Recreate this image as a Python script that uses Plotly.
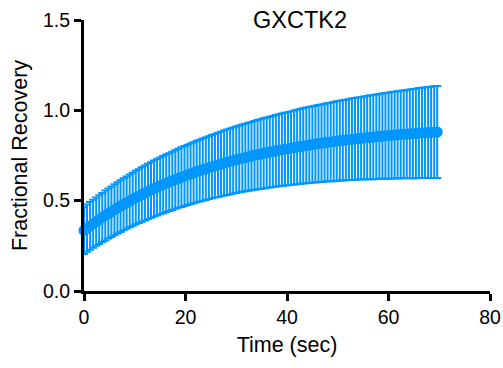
import plotly.graph_objects as go

time_sec = [0.0, 0.6, 1.2, 1.8, 2.4, 3.0, 3.6, 4.2, 4.8, 5.4, 6.0, 6.6, 7.2, 7.8, 8.4, 9.0, 9.6,
            10.2, 10.8, 11.4, 12.0, 12.6, 13.2, 13.8, 14.4, 15.0, 15.6, 16.2, 16.8, 17.4, 18.0,
            18.6, 19.2, 19.8, 20.4, 21.0, 21.6, 22.2, 22.8, 23.4, 24.0, 24.6, 25.2, 25.8, 26.4,
            27.0, 27.6, 28.2, 28.8, 29.4, 30.0, 30.6, 31.2, 31.8, 32.4, 33.0, 33.6, 34.2, 34.8,
            35.4, 36.0, 36.6, 37.2, 37.8, 38.4, 39.0, 39.6, 40.2, 40.8, 41.4, 42.0, 42.6, 43.2,
            43.8, 44.4, 45.0, 45.6, 46.2, 46.8, 47.4, 48.0, 48.6, 49.2, 49.8, 50.4, 51.0, 51.6,
            52.2, 52.8, 53.4, 54.0, 54.6, 55.2, 55.8, 56.4, 57.0, 57.6, 58.2, 58.8, 59.4, 60.0,
            60.6, 61.2, 61.8, 62.4, 63.0, 63.6, 64.2, 64.8, 65.4, 66.0, 66.6, 67.2, 67.8, 68.4,
            69.0, 69.6]

recovery_mean = [0.335, 0.348, 0.360, 0.372, 0.384, 0.395, 0.407, 0.418, 0.429, 0.439, 0.450,
                 0.460, 0.470, 0.480, 0.489, 0.499, 0.508, 0.517, 0.525, 0.534, 0.542, 0.551,
                 0.559, 0.567, 0.574, 0.582, 0.589, 0.596, 0.603, 0.610, 0.617, 0.624, 0.630,
                 0.637, 0.643, 0.649, 0.655, 0.661, 0.666, 0.672, 0.677, 0.683, 0.688, 0.693,
                 0.698, 0.703, 0.708, 0.713, 0.717, 0.722, 0.726, 0.731, 0.735, 0.739, 0.743,
                 0.747, 0.751, 0.755, 0.758, 0.762, 0.766, 0.769, 0.772, 0.776, 0.779, 0.782,
                 0.785, 0.788, 0.791, 0.794, 0.797, 0.800, 0.803, 0.806, 0.808, 0.811, 0.813,
                 0.816, 0.818, 0.821, 0.823, 0.825, 0.827, 0.830, 0.832, 0.834, 0.836, 0.838,
                 0.840, 0.842, 0.844, 0.845, 0.847, 0.849, 0.851, 0.852, 0.854, 0.856, 0.857,
                 0.859, 0.860, 0.862, 0.863, 0.865, 0.866, 0.867, 0.869, 0.870, 0.871, 0.872,
                 0.874, 0.875, 0.876, 0.877, 0.878, 0.879, 0.880]

recovery_sd = [0.130, 0.131, 0.132, 0.133, 0.134, 0.135, 0.136, 0.138, 0.139, 0.140, 0.141,
               0.142, 0.143, 0.144, 0.145, 0.146, 0.147, 0.148, 0.149, 0.151, 0.152, 0.153,
               0.154, 0.155, 0.156, 0.157, 0.158, 0.159, 0.160, 0.161, 0.162, 0.163, 0.165,
               0.166, 0.167, 0.168, 0.169, 0.170, 0.171, 0.172, 0.173, 0.174, 0.175, 0.176,
               0.178, 0.179, 0.180, 0.181, 0.182, 0.183, 0.184, 0.185, 0.186, 0.187, 0.188,
               0.189, 0.190, 0.192, 0.193, 0.194, 0.195, 0.196, 0.197, 0.198, 0.199, 0.200,
               0.201, 0.202, 0.203, 0.205, 0.206, 0.207, 0.208, 0.209, 0.210, 0.211, 0.212,
               0.213, 0.214, 0.215, 0.216, 0.217, 0.219, 0.220, 0.221, 0.222, 0.223, 0.224,
               0.225, 0.226, 0.227, 0.228, 0.229, 0.230, 0.232, 0.233, 0.234, 0.235, 0.236,
               0.237, 0.238, 0.239, 0.240, 0.241, 0.242, 0.243, 0.244, 0.246, 0.247, 0.248,
               0.249, 0.250, 0.251, 0.252, 0.253, 0.254, 0.255]

x_ticks = [0, 20, 40, 60, 80]
y_ticks = [0.0, 0.5, 1.0, 1.5]
y_tick_labels = ["0.0", "0.5", "1.0", "1.5"]

BLUE = "#0096FF"
FONT = "Liberation Sans, Arial, Helvetica, sans-serif"

fig = go.Figure()
fig.add_trace(go.Scatter(
    x=time_sec, y=recovery_mean,
    mode="lines+markers",
    line=dict(color=BLUE, width=8),
    marker=dict(color=BLUE, size=11, line=dict(width=0)),
    error_y=dict(type="data", array=recovery_sd, visible=True,
                 color=BLUE, thickness=2, width=4),
    cliponaxis=False,
    showlegend=False,
))

fig.update_layout(
    width=503, height=368,
    margin=dict(l=84, r=13, t=20, b=77),
    paper_bgcolor="white", plot_bgcolor="white",
    font=dict(family=FONT, size=19.5, color="black"),
    title=dict(text="GXCTK2", x=0.532, xref="paper", xanchor="center",
               y=1 - 20 / 368, yref="container", yanchor="middle",
               font=dict(size=23.5, family=FONT, color="black")),
    xaxis=dict(range=[0, 80], tickvals=x_ticks, ticks="outside", ticklen=7,
               tickwidth=3, tickcolor="black", showline=True, linewidth=3,
               linecolor="black", showgrid=False, zeroline=False, automargin=False,
               title=dict(text="Time (sec)", font=dict(size=21.5), standoff=10),
               tickfont=dict(size=19.5)),
    yaxis=dict(range=[0, 1.5], tickvals=y_ticks, ticktext=y_tick_labels,
               ticks="outside", ticklen=7, tickwidth=3, tickcolor="black",
               showline=True, linewidth=3, linecolor="black", showgrid=False,
               zeroline=False, automargin=False,
               title=dict(text="Fractional Recovery", font=dict(size=21.5), standoff=10),
               tickfont=dict(size=19.5)),
)

fig.write_html("out.html")
